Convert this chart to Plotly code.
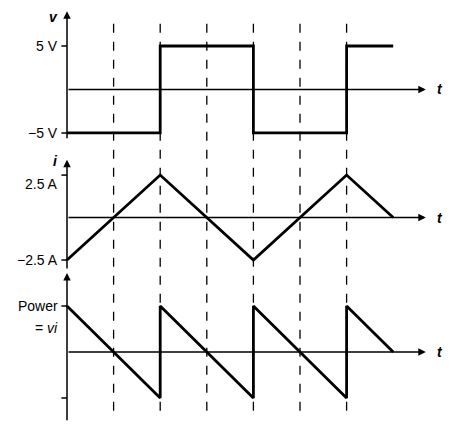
import plotly.graph_objects as go

# time points (one unit = one dashed-line spacing)
t_v = [0, 2, 2, 4, 4, 6, 6, 7]
v_vals = [-5, -5, 5, 5, -5, -5, 5, 5]
t_i = [0, 2, 4, 6, 7]
i_vals = [-2.5, 2.5, -2.5, 2.5, 0]
t_p = [0, 2, 2, 4, 4, 6, 6, 7]
p_vals = [12.5, -12.5, 12.5, -12.5, 12.5, -12.5, 12.5, 0]
dash_t = [1, 2, 3, 4, 5, 6]

font = dict(family="Liberation Sans", size=14, color="black")
fig = go.Figure()

panels = [("y", t_v, v_vals), ("y2", t_i, i_vals), ("y3", t_p, p_vals)]
for ax, xs, ys in panels:
    fig.add_trace(go.Scatter(x=xs, y=ys, yaxis=ax, mode="lines",
                             line=dict(color="black", width=2.8), showlegend=False))

xrange = [-59 / 46.6, (452 - 59) / 46.6]
noax = dict(visible=False, fixedrange=True)
fig.update_layout(
    width=452, height=424, margin=dict(l=0, r=0, t=0, b=0),
    paper_bgcolor="white", plot_bgcolor="white",
    xaxis=dict(range=xrange, **noax),
    yaxis=dict(domain=[0.689, 1.0], range=[-5.8, 9.37], **noax),
    yaxis2=dict(domain=[0.382, 0.646], range=[-3.09, 3.5], **noax),
    yaxis3=dict(domain=[0.024, 0.377], range=[-19.0, 21.7], **noax),
)

shapes, annos = [], []
for t in dash_t:
    shapes.append(dict(type="line", xref="x", yref="paper", x0=t, x1=t,
                       y0=0.05, y1=0.975, line=dict(color="black", width=1.3, dash="dash")))

# axes with arrows
axes = [("y", -5.8, 9.0, 5), ("y2", -3.09, 3.4, 2.5), ("y3", -19.0, 21.5, 12.5)]
for ax, lo, hi, tick in axes:
    annos.append(dict(x=0, y=hi, ax=0, ay=lo, xref="x", yref=ax, axref="x", ayref=ax,
                      showarrow=True, arrowhead=2, arrowsize=1, arrowwidth=1.5,
                      arrowcolor="black", text=""))
    annos.append(dict(x=7.7, y=0, ax=0, ay=0, xref="x", yref=ax, axref="x", ayref=ax,
                      showarrow=True, arrowhead=2, arrowsize=1, arrowwidth=1.5,
                      arrowcolor="black", text=""))
    annos.append(dict(x=7.9, y=0, xref="x", yref=ax, text="<b><i>t</i></b>", showarrow=False,
                      xanchor="left", font=font))
    for val in (tick, -tick):
        shapes.append(dict(type="line", xref="x", yref=ax, x0=-0.12, x1=0, y0=val, y1=val,
                           line=dict(color="black", width=1.5)))

labels = [
    ("y", 8.3, "<b><i>v</i></b>"), ("y", 5, "5 V"), ("y", -5, "−5 V"),
    ("y2", 3.3, "<b><i>i</i></b>"), ("y2", 2.0, "2.5 A"), ("y2", -2.5, "−2.5 A"),
    ("y3", 12.5, "Power"), ("y3", 6.5, "= <i>vi</i>"),
]
for ax, yv, txt in labels:
    annos.append(dict(x=-0.15, y=yv, xref="x", yref=ax, text=txt, showarrow=False,
                      xanchor="right", font=font))

fig.update_layout(shapes=shapes, annotations=annos)
fig.write_html("out.html")
